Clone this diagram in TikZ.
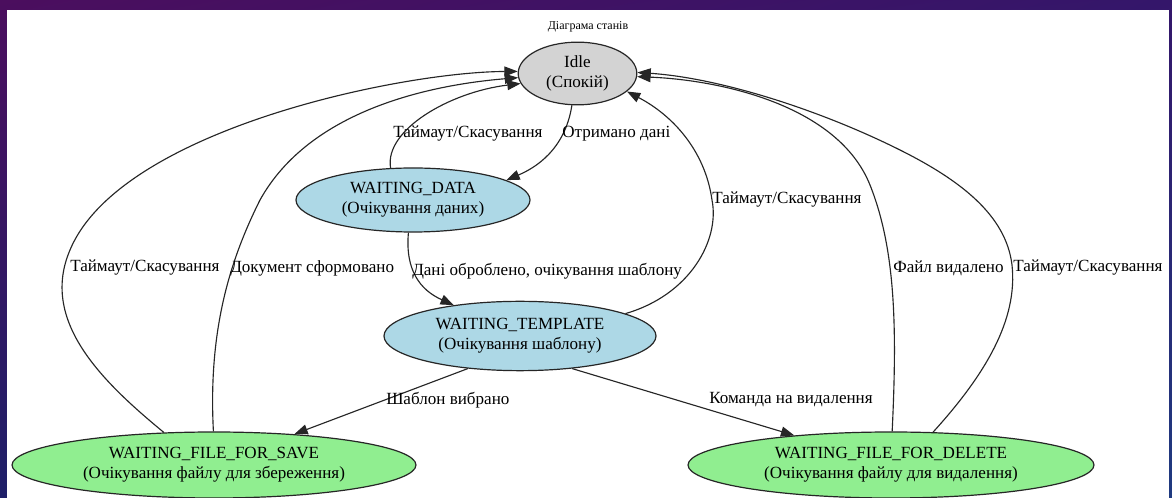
\documentclass[tikz,border=0pt]{standalone}
\usepackage{fontspec}
\setmainfont{Liberation Serif}
\usetikzlibrary{shapes.geometric,arrows.meta,shadings}
\definecolor{bgA}{HTML}{4B0E5E}
\definecolor{bgB}{HTML}{34166A}
\definecolor{bgC}{HTML}{1E1F68}
\definecolor{bgD}{HTML}{1F3A80}
\definecolor{idlegray}{HTML}{D3D3D3}
\definecolor{waitblue}{HTML}{ADD8E6}
\definecolor{filegreen}{HTML}{90EE90}
\begin{document}
\begin{tikzpicture}[x=0.75pt,y=-0.75pt,
  state/.style={ellipse,draw=black!85,line width=0.9pt,inner sep=0pt,align=center,
    font=\fontsize{12.8}{15}\selectfont},
  idlestate/.style={state,fill=idlegray,minimum width=89pt,minimum height=47pt},
  bluestate/.style={state,fill=waitblue},
  greenstate/.style={state,fill=filegreen,minimum height=49.5pt},
  trans/.style={draw=black!85,line width=0.85pt,-{Triangle[length=10pt,width=7.5pt]}},
  lbl/.style={anchor=west,inner sep=0pt,font=\fontsize{12.8}{15}\selectfont}
]
% frame and canvas
\useasboundingbox (0,0) rectangle (1172,498);
\shade[upper left=bgA, upper right=bgB, lower left=bgC, lower right=bgD] (0,0) rectangle (1172,498);
\fill[white] (7,10) rectangle (1169,498);

\node[font=\fontsize{9}{10}\selectfont] (title) at (588,27) {Діаграма станів};

% states
\node[idlestate] (idle) at (577.5,73.5) {Idle\\(Спокій)};
\node[bluestate,minimum width=175.5pt,minimum height=48pt] (wd) at (413,200) {WAITING\_DATA\\(Очікування даних)};
\node[bluestate,minimum width=204pt,minimum height=52pt] (wt) at (520,336) {WAITING\_TEMPLATE\\(Очікування шаблону)};
\node[greenstate,minimum width=303pt] (save) at (214,465) {WAITING\_FILE\_FOR\_SAVE\\(Очікування файлу для збереження)};
\node[greenstate,minimum width=304.5pt] (del) at (891,465) {WAITING\_FILE\_FOR\_DELETE\\(Очікування файлу для видалення)};

% transitions
\draw[trans] (idle.-100) .. controls (565,150) and (535,168) .. (wd.12);
\draw[trans] (wd.125) .. controls (384,130) and (450,92) .. (idle.190);
\draw[trans] (wd.262) .. controls (405,270) and (420,290) .. (wt.155);
\draw[trans] (wt.12) .. controls (690,295) and (720,240) .. (712,200)
  .. controls (705,150) and (672,115) .. (idle.-20);
\draw[trans] (wt.212) -- (save.21);
\draw[trans] (wt.-32) -- (del.163);
\draw[trans] (save.147) .. controls (100,380) and (40,320) .. (70,250)
  .. controls (120,130) and (400,72) .. (idle.178);
\draw[trans] (save.91) .. controls (208,330) and (230,260) .. (260,200)
  .. controls (310,110) and (430,85) .. (idle.184);
\draw[trans] (del.88) .. controls (897,330) and (896,250) .. (870,185)
  .. controls (838,105) and (720,80) .. (idle.-3);
\draw[trans] (del.38) .. controls (985,375) and (1018,320) .. (1012,265)
  .. controls (1006,215) and (960,180) .. (900,150)
  .. controls (820,110) and (720,78) .. (idle.1);

% transition labels
\node[lbl] (l1) at (562,134) {Отримано дані};
\node[lbl] (l2) at (393,134) {Таймаут/Скасування};
\node[lbl] (l3) at (412,271) {Дані оброблено, очікування шаблону};
\node[lbl] (l4) at (712,200) {Таймаут/Скасування};
\node[lbl] (l5) at (386,400) {Шаблон вибрано};
\node[lbl] (l6) at (709,400) {Команда на видалення};
\node[lbl] (l7) at (70,268) {Таймаут/Скасування};
\node[lbl] (l8) at (230,268) {Документ сформовано};
\node[lbl] (l9) at (893,268) {Файл видалено};
\node[lbl] (l10) at (1013,268) {Таймаут/Скасування};
\end{tikzpicture}
\end{document}
